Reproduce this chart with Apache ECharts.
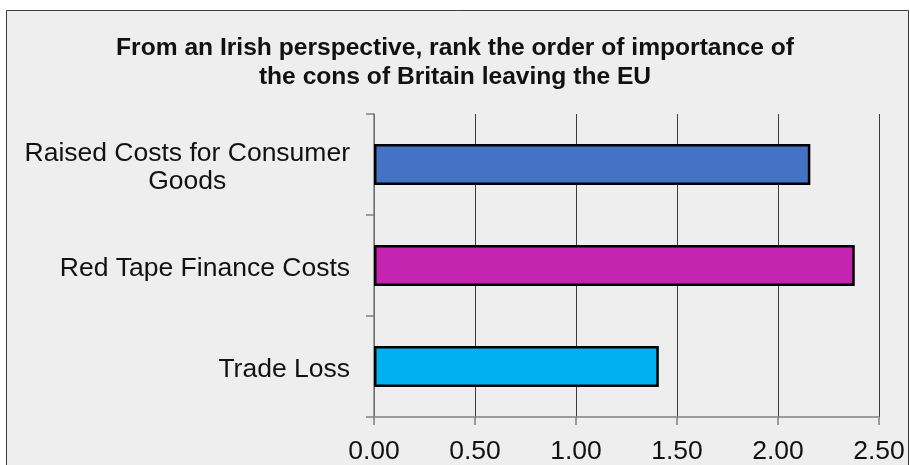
<!DOCTYPE html>
<html>
<head>
<meta charset="utf-8">
<script src="https://cdn.jsdelivr.net/npm/echarts@6/dist/echarts.min.js"></script>
<style>
  html, body { margin: 0; padding: 0; background: #ffffff; }
  #chart { width: 910px; height: 465px; }
</style>
</head>
<body>
<div id="chart"></div>
<script>
// Survey ranking: average importance score per concern
const titleLines = [
  'From an Irish perspective, rank the order of importance of',
  'the cons of Britain leaving the EU'
];
const categories = ['Raised Costs for Consumer\nGoods', 'Red Tape Finance Costs', 'Trade Loss'];
const scores = [2.16, 2.38, 1.41];
const xTicks = { min: 0, max: 2.5, step: 0.5 };

const palette = ['#4472C4', '#C424B0', '#00B0F0'];
const labelFont = '"Liberation Sans", Arial, sans-serif';

const chart = echarts.init(document.getElementById('chart'), null, { renderer: 'canvas' });

chart.setOption({
  backgroundColor: '#ffffff',
  animation: false,
  graphic: {
    elements: [{
      type: 'rect',
      z: -100,
      silent: true,
      shape: { x: 6.5, y: 10.5, width: 902, height: 470 },
      style: { fill: '#eeeeee', stroke: '#3a3a3a', lineWidth: 1 }
    }]
  },
  title: {
    text: titleLines.join('\n'),
    left: 'center',
    top: 29,
    textStyle: {
      fontFamily: labelFont,
      fontSize: 24.6,
      fontWeight: 'bold',
      color: '#111111',
      lineHeight: 29
    }
  },
  grid: { left: 374, right: 31, top: 114, bottom: 44, containLabel: false },
  xAxis: {
    type: 'value',
    min: xTicks.min,
    max: xTicks.max,
    interval: xTicks.step,
    axisLine: { show: true, lineStyle: { color: '#808080', width: 1.5 } },
    axisTick: { show: true, inside: false, length: 8, lineStyle: { color: '#808080', width: 1.5 } },
    splitLine: { show: true, lineStyle: { color: '#3c3c3c', width: 1 } },
    axisLabel: {
      margin: 21,
      fontFamily: labelFont,
      fontSize: 26.5,
      color: '#111111',
      formatter: v => v.toFixed(2)
    }
  },
  yAxis: {
    type: 'category',
    inverse: true,
    data: categories,
    axisLine: { show: true, lineStyle: { color: '#808080', width: 1.5 } },
    axisTick: { show: true, inside: false, length: 8, lineStyle: { color: '#808080', width: 1.5 } },
    splitLine: { show: false },
    axisLabel: {
      margin: 24,
      fontFamily: labelFont,
      fontSize: 26.5,
      color: '#111111',
      lineHeight: 28,
      padding: [6, 0, 0, 0],
      formatter: v => v.split('\n').map(s => '{c|' + s + '}').join('\n'),
      rich: {
        c: { align: 'center', fontFamily: labelFont, fontSize: 26.5, color: '#111111', lineHeight: 28 }
      }
    }
  },
  series: [{
    type: 'bar',
    barWidth: 41,
    data: scores.map((v, i) => ({
      value: v,
      itemStyle: { color: palette[i] }
    })),
    itemStyle: { borderColor: '#000000', borderWidth: 2.5 }
  }]
});
</script>
</body>
</html>
